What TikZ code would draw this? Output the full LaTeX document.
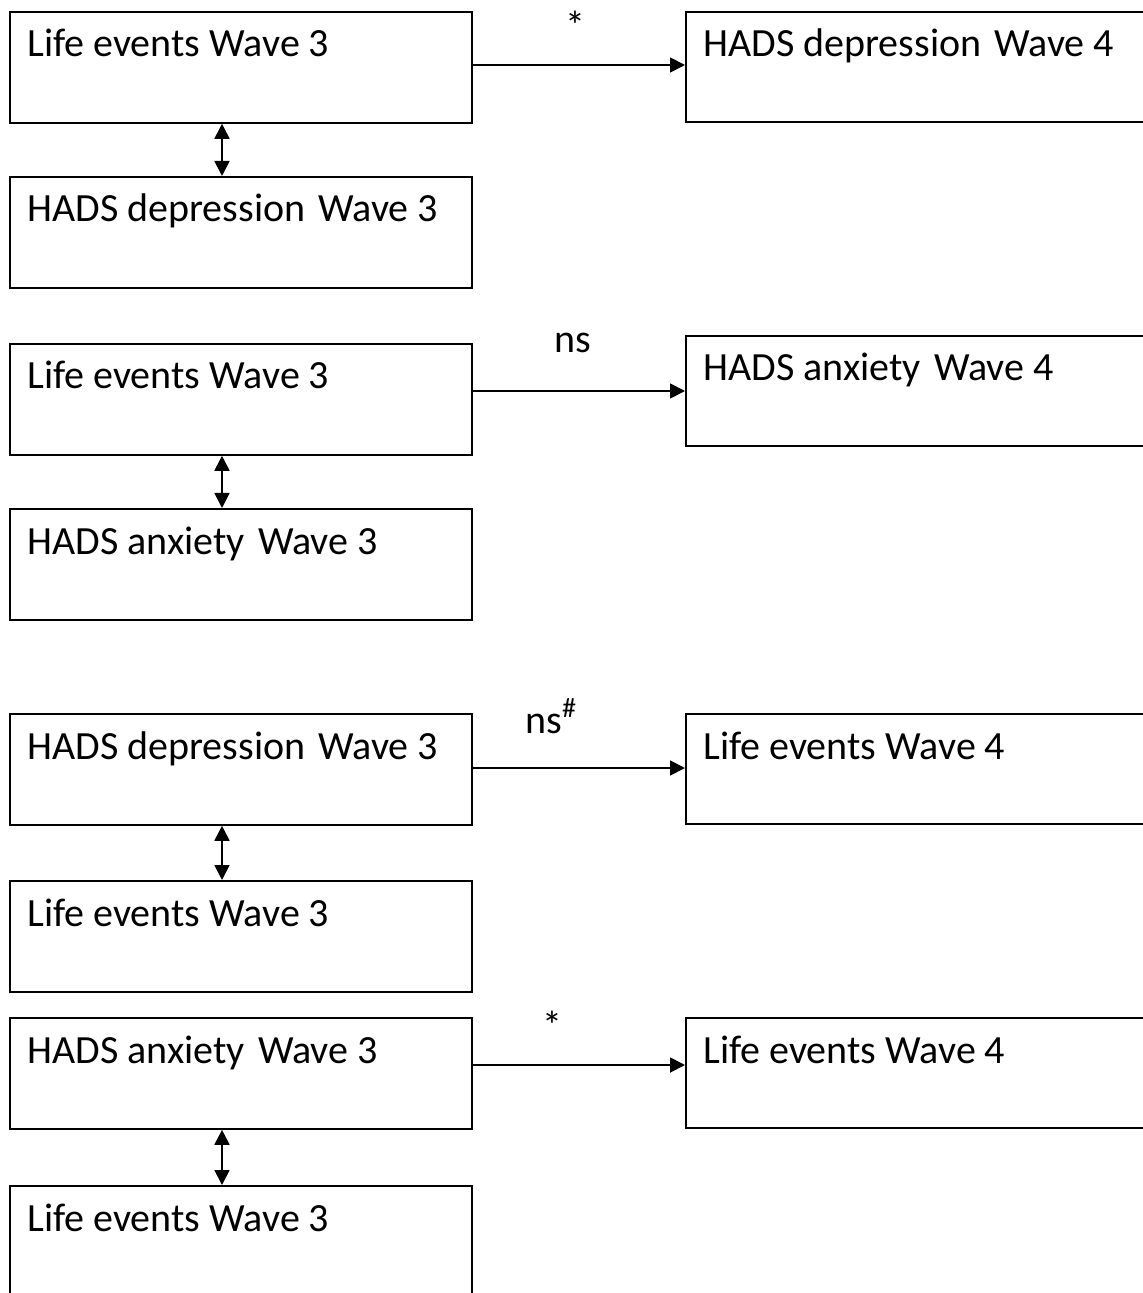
\documentclass[tikz,border=0pt]{standalone}
\usepackage{fontspec}
\setmainfont{Carlito}
\usetikzlibrary{arrows.meta}
\newcommand{\wgap}{\hspace{2pt} }
\begin{document}
\begin{tikzpicture}[x=0.5pt,y=-0.5pt,
  box/.style={draw,line width=0.9pt,rectangle,minimum width=231pt,minimum height=55.5pt,anchor=north west,inner sep=0pt},
  rbox/.style={box,minimum width=240pt,minimum height=55pt},
  txt/.style={anchor=base west,inner sep=0pt,font=\fontsize{20}{24}\selectfont},
  lab/.style={anchor=base,inner sep=0pt,font=\fontsize{20}{24}\selectfont},
  tip/.tip={Triangle[length=7.5pt,width=7.5pt]},
  arr/.style={line width=0.9pt,-tip},
  darr/.style={line width=0.9pt,tip-tip}]
\useasboundingbox (0,0) rectangle (1143,1293);
\clip (0,0) rectangle (1143,1293);
% left boxes
\node[box] (L1) at (9,11) {};
\node[box] (L2) at (9,176) {};
\node[box] (L3) at (9,343) {};
\node[box] (L4) at (9,508) {};
\node[box] (L5) at (9,713) {};
\node[box] (L6) at (9,880) {};
\node[box] (L7) at (9,1017) {};
\node[box] (L8) at (9,1185) {};
% right boxes
\node[rbox] (R1) at (685,11) {};
\node[rbox] (R2) at (685,335) {};
\node[rbox] (R3) at (685,713) {};
\node[rbox] (R4) at (685,1017) {};
% texts
\node[txt] (tL1) at ([xshift=9pt,yshift=-23pt]L1.north west) {Life events Wave 3};
\node[txt] (tL2) at ([xshift=9pt,yshift=-23pt]L2.north west) {HADS depression\wgap Wave 3};
\node[txt] (tL3) at ([xshift=9pt,yshift=-23pt]L3.north west) {Life events Wave 3};
\node[txt] (tL4) at ([xshift=9pt,yshift=-23pt]L4.north west) {HADS anxiety\wgap Wave 3};
\node[txt] (tL5) at ([xshift=9pt,yshift=-23pt]L5.north west) {HADS depression\wgap Wave 3};
\node[txt] (tL6) at ([xshift=9pt,yshift=-23pt]L6.north west) {Life events Wave 3};
\node[txt] (tL7) at ([xshift=9pt,yshift=-23pt]L7.north west) {HADS anxiety\wgap Wave 3};
\node[txt] (tL8) at ([xshift=9pt,yshift=-23pt]L8.north west) {Life events Wave 3};
\node[txt] (tR1) at ([xshift=9pt,yshift=-23pt]R1.north west) {HADS depression\wgap Wave 4};
\node[txt] (tR2) at ([xshift=9pt,yshift=-23pt]R2.north west) {HADS anxiety\wgap Wave 4};
\node[txt] (tR3) at ([xshift=9pt,yshift=-23pt]R3.north west) {Life events Wave 4};
\node[txt] (tR4) at ([xshift=9pt,yshift=-23pt]R4.north west) {Life events Wave 4};
% arrow heights
\coordinate (a1) at (0,65);
\coordinate (a2) at (0,391);
\coordinate (a3) at (0,768);
\coordinate (a4) at (0,1065);
\coordinate (vx) at (222,0);
\draw[arr] (L1.east |- a1) -- (R1.west |- a1);
\draw[arr] (L3.east |- a2) -- (R2.west |- a2);
\draw[arr] (L5.east |- a3) -- (R3.west |- a3);
\draw[arr] (L7.east |- a4) -- (R4.west |- a4);
\draw[darr] (L1.south -| vx) -- (L2.north -| vx);
\draw[darr] (L3.south -| vx) -- (L4.north -| vx);
\draw[darr] (L5.south -| vx) -- (L6.north -| vx);
\draw[darr] (L7.south -| vx) -- (L8.north -| vx);
% labels
\node[lab] (s1) at (575,40) {*};
\node[lab] (s2) at (573,353) {ns};
\node[lab,anchor=base west] (s3) at (525,733) {ns\textsuperscript{\#}};
\node[lab] (s4) at (552,1039) {*};
\end{tikzpicture}
\end{document}
